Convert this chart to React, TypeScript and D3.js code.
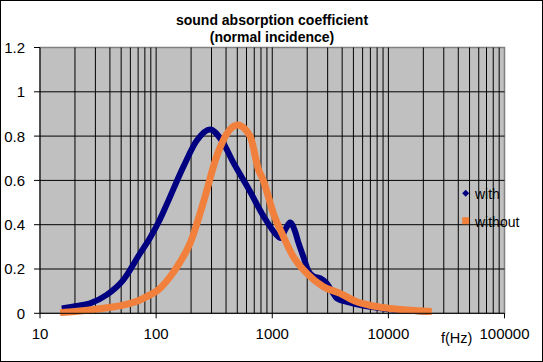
import * as d3 from 'd3';

// frequencies (Hz) and absorption values
const withFreq = [15.4, 20, 27, 37.5, 52, 72.6, 88.5, 107, 123, 171, 224, 291, 367, 463, 644, 838, 1093, 1167, 1300, 1423, 1572, 1678, 1854, 2050, 2300, 2582, 2946, 3300, 3594, 4500, 6000, 8000, 11000, 15000, 22000];
const withVal = [0.022, 0.032, 0.045, 0.083, 0.15, 0.27, 0.34, 0.42, 0.49, 0.66, 0.78, 0.83, 0.78, 0.68, 0.55, 0.44, 0.353, 0.34, 0.38, 0.41, 0.37, 0.32, 0.255, 0.19, 0.165, 0.158, 0.135, 0.095, 0.068, 0.05, 0.035, 0.025, 0.017, 0.012, 0.007];

const withoutFreq = [14.9, 20, 27, 38, 52, 72.6, 88.5, 104, 132, 160, 196, 255, 333, 406, 501, 644, 760, 838, 1024, 1248, 1521, 1983, 2755, 3837, 5343, 7430, 10350, 14400, 23650];
const withoutVal = [0.003, 0.008, 0.015, 0.025, 0.037, 0.06, 0.083, 0.105, 0.165, 0.23, 0.316, 0.5, 0.71, 0.81, 0.85, 0.8, 0.65, 0.6, 0.45, 0.346, 0.255, 0.18, 0.12, 0.09, 0.052, 0.033, 0.022, 0.015, 0.008];

const xTicks = [10, 100, 1000, 10000, 100000];
const yTicks = [0, 0.2, 0.4, 0.6, 0.8, 1, 1.2];
const seriesNames = ['with', 'without'];
const titleLines = ['sound absorption coefficient', '(normal incidence)'];

export default function App() {
    const width = 543;
    const height = 362;
    const plot = { left: 40, right: 504.5, top: 47.5, bottom: 313.3 };
    const font = '"Liberation Sans", Arial, sans-serif';

    const xScale = d3.scaleLog().domain([10, 100000]).range([plot.left, plot.right]);
    const yScale = d3.scaleLinear().domain([0, 1.2]).range([plot.bottom, plot.top]);

    // minor gridlines 2..9 in every decade
    const minor: number[] = [];
    for (let d = 10; d < 100000; d *= 10) {
        for (let k = 2; k <= 9; k++) minor.push(d * k);
    }

    const line = d3
        .line<[number, number]>()
        .x((d) => xScale(d[0]))
        .y((d) => yScale(d[1]))
        .curve(d3.curveMonotoneX);

    const withPts = withFreq.map((f, i) => [f, withVal[i]] as [number, number]);
    const withoutPts = withoutFreq.map((f, i) => [f, withoutVal[i]] as [number, number]);

    return (
        <svg width={width} height={height} style={{ position: 'absolute', left: 0, top: 0 }}>
            <rect x={0} y={0} width={width} height={height} fill="white" />
            <rect x={0.5} y={0.5} width={width - 1} height={height - 1} fill="none" stroke="black" />

            {/* plot area */}
            <rect x={plot.left} y={plot.top} width={plot.right - plot.left} height={plot.bottom - plot.top}
                fill="#C0C0C0" stroke="#808080" strokeWidth={1.5} />

            {/* gridlines */}
            {minor.concat(xTicks.slice(1, -1)).map((f) => (
                <line key={'v' + f} x1={xScale(f)} x2={xScale(f)} y1={plot.top} y2={plot.bottom} stroke="black" strokeWidth={1} />
            ))}
            {yTicks.slice(1, -1).map((v) => (
                <line key={'h' + v} x1={plot.left} x2={plot.right} y1={yScale(v)} y2={yScale(v)} stroke="black" strokeWidth={1} />
            ))}

            {/* series */}
            <path d={line(withPts) || ''} fill="none" stroke="#000080" strokeWidth={6} />
            <path d={line(withoutPts) || ''} fill="none" stroke="#F0803C" strokeWidth={7} />

            {/* axes */}
            <line x1={plot.left} x2={plot.left} y1={plot.top} y2={plot.bottom} stroke="black" />
            <line x1={plot.left} x2={plot.right} y1={plot.bottom} y2={plot.bottom} stroke="black" />
            {yTicks.map((v) => (
                <g key={'yt' + v}>
                    <line x1={plot.left - 6} x2={plot.left} y1={yScale(v)} y2={yScale(v)} stroke="black" />
                    <text x={25} y={yScale(v)} dy="0.36em" textAnchor="end" fontFamily={font} fontSize={15}>{v}</text>
                </g>
            ))}
            {xTicks.map((f) => (
                <g key={'xt' + f}>
                    <line x1={xScale(f)} x2={xScale(f)} y1={plot.bottom} y2={plot.bottom + 5} stroke="black" />
                    <text x={xScale(f)} y={338.5} textAnchor="middle" fontFamily={font} fontSize={15}>{f}</text>
                </g>
            ))}
            <text x={441} y={343} fontFamily={font} fontSize={14.5}>f(Hz)</text>

            {/* title */}
            {titleLines.map((t, i) => (
                <text key={t} x={272} y={24.5 + i * 17} textAnchor="middle" fontFamily={font} fontSize={14} fontWeight="bold">{t}</text>
            ))}

            {/* legend */}
            <path d="M465.7,189.8 L469.2,193.3 L465.7,196.8 L462.2,193.3 Z" fill="#000080" />
            <rect x={462.2} y={217.2} width={7} height={7} fill="#F0803C" />
            <text x={475} y={198.5} fontFamily={font} fontSize={14}>{seriesNames[0]}</text>
            <text x={475} y={226.5} fontFamily={font} fontSize={14}>{seriesNames[1]}</text>
        </svg>
    );
}
